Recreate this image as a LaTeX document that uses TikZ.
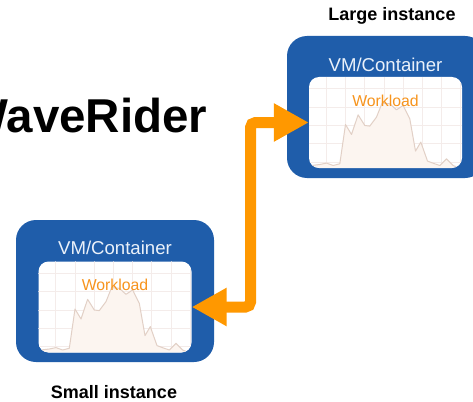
\documentclass[tikz,border=0pt]{standalone}
\usepackage{fontspec}
\setmainfont{Liberation Sans}
\usetikzlibrary{arrows.meta}
\definecolor{boxblue}{RGB}{31,93,170}
\definecolor{arrorange}{RGB}{255,152,0}
\definecolor{wlorange}{RGB}{247,148,29}
\definecolor{gridc}{RGB}{244,236,234}
\definecolor{wavec}{RGB}{226,208,198}
\definecolor{wavefill}{RGB}{252,245,240}
\definecolor{vmtext}{RGB}{234,241,250}
\newcommand\workchart[1]{%
  \begin{scope}[shift={(#1.north west)}]
    \clip[rounded corners=10pt] (0,0) rectangle (153,91);
    \foreach \gx in {17.5,36.7,55.9,75.1,94.3,113.5,132.7,151.9}
      \draw[gridc, line width=0.8pt] (\gx,0) -- (\gx,91);
    \foreach \gy in {12,30.3,48.6,66.9,85.2}
      \draw[gridc, line width=0.8pt] (0,\gy) -- (153,\gy);
    \fill[wavefill] (0,91) -- (0,89.5) -- (2.7,88.7) -- (11,87.7) -- (17.7,86.3) -- (24.3,88.7) -- (31,87) -- (36.7,47.7) -- (42.7,57.7) -- (49.3,38) -- (56,48.7) -- (61,49.3) -- (67.7,40.3) -- (73.3,26.3) -- (81,27) -- (87.7,33) -- (94.3,28.7) -- (101,42) -- (106.7,74.3) -- (112,65.3) -- (118.7,84.3) -- (126,87) -- (131,88.7) -- (137.7,82) -- (144.3,88.7) -- (150,91) -- cycle;
    \draw[wavec, line width=1pt, line join=round] (0,89.5) -- (2.7,88.7) -- (11,87.7) -- (17.7,86.3) -- (24.3,88.7) -- (31,87) -- (36.7,47.7) -- (42.7,57.7) -- (49.3,38) -- (56,48.7) -- (61,49.3) -- (67.7,40.3) -- (73.3,26.3) -- (81,27) -- (87.7,33) -- (94.3,28.7) -- (101,42) -- (106.7,74.3) -- (112,65.3) -- (118.7,84.3) -- (126,87) -- (131,88.7) -- (137.7,82) -- (144.3,88.7) -- (150,91);
  \end{scope}}
\begin{document}
\begin{tikzpicture}[x=1pt,y=-1pt,
  outerbox/.style={fill=boxblue, rounded corners=20pt, minimum width=198pt, minimum height=142pt, inner sep=0pt, draw=none},
  innerbox/.style={fill=white, rounded corners=10pt, minimum width=153pt, minimum height=91pt, inner sep=0pt, draw=none},
  vmlabel/.style={text=vmtext, font=\fontsize{18.6}{20}\selectfont, inner sep=0pt},
  wllabel/.style={text=wlorange, font=\fontsize{15.8}{18}\selectfont, inner sep=0pt},
  caption/.style={font=\bfseries\fontsize{18}{20}\selectfont, inner sep=0pt},
  link/.style={draw=arrorange, line width=11pt, rounded corners=5pt, {Triangle[length=35pt,width=36pt]}-{Triangle[length=35pt,width=36pt]}}
]
\clip (0,0) rectangle (473,401);
\fill[white] (0,0) rectangle (473,401);

\node[font=\bfseries\fontsize{47.5}{50}\selectfont, anchor=base east, inner sep=0pt] (title) at (207.5,132) {WaveRider};

% large instance
\node[outerbox] (lout) at (386,107) {};
\node[innerbox] (lin) at (385.5,122.5) {};
\workchart{lin}
\node[vmlabel] (lvm) at (385.5,65) {VM/Container};
\node[wllabel] (lwl) at (385.5,101) {Workload};
\node[caption] (lcap) at (392,16) {Large instance};

% small instance
\node[outerbox] (sout) at (115,291) {};
\node[innerbox] (sin) at (115,307) {};
\workchart{sin}
\node[vmlabel] (svm) at (115,248) {VM/Container};
\node[wllabel] (swl) at (115,285) {Workload};
\node[caption] (scap) at (114,392) {Small instance};

% connector
\coordinate (mid) at (250.5,0);
\draw[link] (sin.east) -- (sin.east -| mid) |- (lin.west);
\end{tikzpicture}
\end{document}
